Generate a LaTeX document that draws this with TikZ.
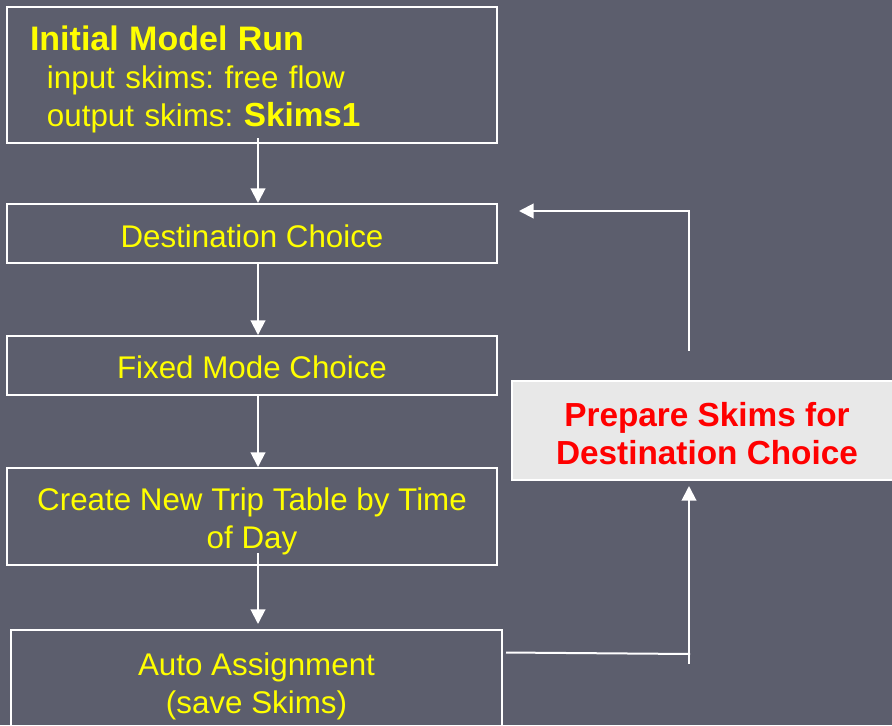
\documentclass[tikz,border=0pt]{standalone}
\usepackage{fontspec}
\setmainfont{Liberation Sans}
\usetikzlibrary{arrows.meta,calc}
\definecolor{bgc}{RGB}{92,94,109}
\definecolor{ylw}{RGB}{255,255,0}
\definecolor{lgray}{RGB}{232,232,232}
\frenchspacing
\begin{document}
\begin{tikzpicture}[x=0.75pt,y=-0.75pt,
  box/.style={draw=white,line width=1.5pt,inner sep=0pt},
  txt/.style={text=ylw,align=center,inner sep=0pt,
    font=\fontsize{23.5}{28.5}\selectfont},
  arr/.style={draw=white,line width=1.5pt,-{Triangle[width=11pt,length=11pt]}},
  ln/.style={draw=white,line width=1.5pt}]
\useasboundingbox (0,0) rectangle (892,725);
\fill[bgc] (0,0) rectangle (892,725);
\clip (0,0) rectangle (892,725);
% boxes
\node[box,minimum width=367.5pt,minimum height=102pt] (b1) at (252,75) {};
\node[box,minimum width=367.5pt,minimum height=44.25pt] (b2) at (252,233.5) {};
\node[box,minimum width=367.5pt,minimum height=44.25pt] (b3) at (252,365.5) {};
\node[box,minimum width=367.5pt,minimum height=72.75pt] (b4) at (252,516.5) {};
\node[box,minimum width=368.25pt,minimum height=76.5pt] (b5) at (256.5,681) {};
\node[box,fill=lgray,minimum width=291pt,minimum height=74.25pt] (b6) at (706,430.5) {};
% texts
\node[txt,text width=333pt,align=left] (t1) at ($(b1)+(0,4)$)
  {{\fontsize{25.5}{28.5}\selectfont\bfseries Initial Model Run}\\
   \hspace*{12.75pt}input skims: free flow\\
   \hspace*{12.75pt}output skims: {\fontsize{25}{28.5}\selectfont\bfseries Skims1}};
\node[txt] (t2) at ($(b2)+(0,2.5)$) {Destination Choice};
\node[txt] (t3) at ($(b3)+(0,2)$) {Fixed Mode Choice};
\node[txt] (t4) at ($(b4)+(0,5)$) {Create New Trip Table by Time\\of Day};
\node[txt] (t5) at ($(b5)+(0,5)$) {Auto Assignment\\(save Skims)};
\node[text=red,align=center,inner sep=0pt,font=\fontsize{25}{28.5}\selectfont\bfseries] (t6) at (707,433.5) {Prepare Skims for\\Destination Choice};
% connectors
\draw[arr] ($(b1.south)+(6,-6)$) -- ($(b2.north)+(6,0)$);
\draw[arr] ($(b2.south)+(6,0)$) -- ($(b3.north)+(6,0)$);
\draw[arr] ($(b3.south)+(6,0)$) -- ($(b4.north)+(6,0)$);
\draw[arr] ($(b4.south)+(6,-13)$) -- ($(b5.north)+(1.5,-5)$);
\coordinate (c1) at (690,654);
\coordinate (c0) at (689,664);
\coordinate (c2) at (689,351);
\coordinate (c3) at (689,211);
\draw[ln] ($(b5.east |- c1)+(3,-1.5)$) -- (c1);
\draw[arr] (c0) -- ($(b6.south -| c0)+(0,5)$);
\draw[arr] (c2) -- (c3) -- ($(c3 -| b2.east)+(21,0)$);
\end{tikzpicture}
\end{document}
